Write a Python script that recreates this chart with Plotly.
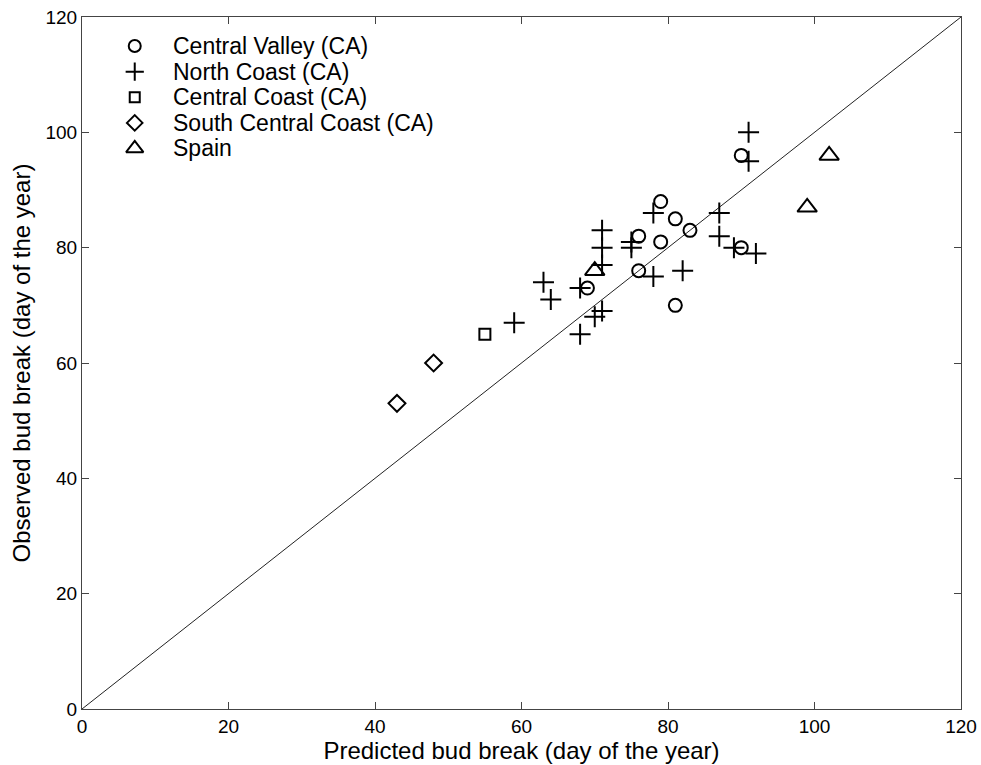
import plotly.graph_objects as go

# ---- data ----
cv_x = [69, 76, 76, 79, 79, 81, 83, 81, 90, 90]
cv_y = [73, 82, 76, 88, 81, 85, 83, 70, 96, 80]

nc_x = [91, 91, 87, 87, 89, 92, 82, 78, 78, 75, 75, 71, 71, 71, 68, 63, 64, 71, 70, 68, 59]
nc_y = [100, 95, 86, 82, 80, 79, 76, 75, 86, 80, 81, 83, 80, 77, 73, 74, 71, 69, 68, 65, 67]

cc_x = [55]
cc_y = [65]

scc_x = [48, 43]
scc_y = [60, 53]

sp_x = [70, 99, 102]
sp_y = [76, 87, 96]

line_x = [0, 120]
line_y = [0, 120]

tick_vals = [0, 20, 40, 60, 80, 100, 120]

series_names = ["Central Valley (CA)", "North Coast (CA)", "Central Coast (CA)",
                "South Central Coast (CA)", "Spain"]

# ---- styling ----
FONT = "Liberation Sans, Arial, Helvetica, sans-serif"
symbols = ["circle-open", "cross-thin-open", "square-open", "diamond-open", "triangle-up-open"]
sizes = [13, 15, 11, 13, 17]
legend_sizes = [12, 13, 10, 12, 15]

# legend layout (paper fractions of plot area)
leg_marker_x = 0.06
leg_text_x = 0.101
leg_top = 0.958
leg_step = 0.037

fig = go.Figure()
fig.add_trace(go.Scatter(x=line_x, y=line_y, mode="lines",
                         line=dict(color="#222", width=1), showlegend=False, hoverinfo="skip"))

data = [(cv_x, cv_y), (nc_x, nc_y), (cc_x, cc_y), (scc_x, scc_y), (sp_x, sp_y)]
for (xs, ys), name, sym, sz in zip(data, series_names, symbols, sizes):
    fig.add_trace(go.Scatter(x=xs, y=ys, mode="markers", name=name, showlegend=False,
                             marker=dict(symbol=sym, size=sz, color="black",
                                         line=dict(color="black", width=2))))

# custom legend (markers on an invisible overlay axis, labels as annotations)
for i, (name, sym, sz) in enumerate(zip(series_names, symbols, legend_sizes)):
    yy = leg_top - i * leg_step
    fig.add_trace(go.Scatter(x=[leg_marker_x], y=[yy], xaxis="x2", yaxis="y2",
                             mode="markers", showlegend=False, hoverinfo="skip",
                             marker=dict(symbol=sym, size=sz, color="black",
                                         line=dict(color="black", width=2))))
    fig.add_annotation(x=leg_text_x, y=yy, xref="paper", yref="paper", text=name,
                       showarrow=False, xanchor="left", yanchor="middle",
                       font=dict(family=FONT, size=23, color="black"))

axis_common = dict(range=[0, 120], tickvals=tick_vals, ticks="inside", ticklen=7,
                   tickcolor="#444", showline=True, linecolor="#444", linewidth=1,
                   mirror="ticks", showgrid=False, zeroline=False, automargin=False,
                   tickfont=dict(family=FONT, size=19, color="black"))

fig.update_xaxes(**axis_common,
                 title=dict(text="Predicted bud break (day of the year)",
                            font=dict(family=FONT, size=24, color="black"), standoff=0))
fig.update_yaxes(**axis_common,
                 title=dict(text="Observed bud break (day of the year)",
                            font=dict(family=FONT, size=24, color="black"), standoff=8))

fig.update_layout(
    width=981, height=765,
    margin=dict(l=82, r=20, t=17, b=56),
    plot_bgcolor="white", paper_bgcolor="white",
    font=dict(family=FONT, color="black"),
    showlegend=False,
    xaxis2=dict(overlaying="x", range=[0, 1], visible=False, fixedrange=True),
    yaxis2=dict(overlaying="y", range=[0, 1], visible=False, fixedrange=True),
)

fig.write_html("out.html")
